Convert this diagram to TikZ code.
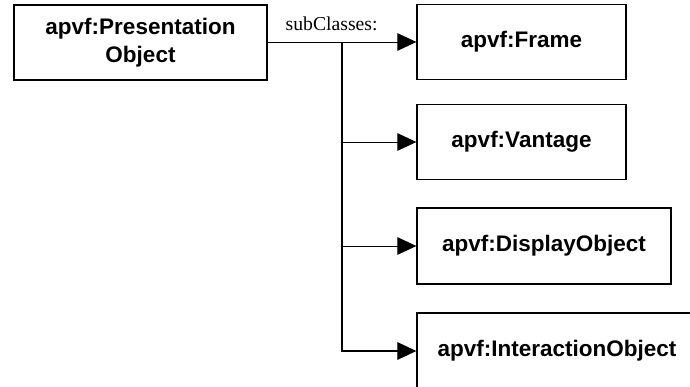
\documentclass[tikz,border=0pt]{standalone}
\usepackage{fontspec}
\setmainfont{Liberation Sans}
\newfontfamily\labelfont{Liberation Serif}
\usetikzlibrary{arrows.meta}
\begin{document}
\begin{tikzpicture}[x=0.025cm, y=-0.025cm,
  classbox/.style={rectangle, draw=black, line width=0.9pt, fill=white,
    minimum height=1.87cm, font=\fontsize{16}{20}\selectfont\bfseries, align=center},
  subarrow/.style={draw=black, line width=0.6pt, -{Triangle[length=13.5pt, width=12.5pt]}}
]
\clip (0,0) rectangle (690,387);
\fill[white] (0,0) rectangle (690,387);

\node[classbox, minimum width=6.325cm] (pres) at (140.5,42.5) {apvf:Presentation\\Object};
\node[classbox, minimum width=5.225cm] (frame) at (521.5,42) {apvf:Frame};
\node[classbox, minimum width=5.225cm] (vant) at (521.5,142) {apvf:Vantage};
\node[classbox, minimum width=6.35cm, minimum height=1.9cm] (disp) at (544,246) {apvf:DisplayObject};
\node[classbox, minimum width=7cm, minimum height=1.9cm] (inter) at (557,351) {apvf:InteractionObject};

\coordinate (split) at (342,42);

\draw[subarrow] (pres.east |- frame.west) -- (frame.west)
  node[pos=0.43, above=4pt, font=\labelfont\fontsize{14}{16}\selectfont] {subClasses:};
\draw[subarrow] (split) |- (vant.west);
\draw[subarrow] (split) |- (disp.west);
\draw[subarrow, line width=0.9pt] (split) |- (inter.west);
\end{tikzpicture}
\end{document}
